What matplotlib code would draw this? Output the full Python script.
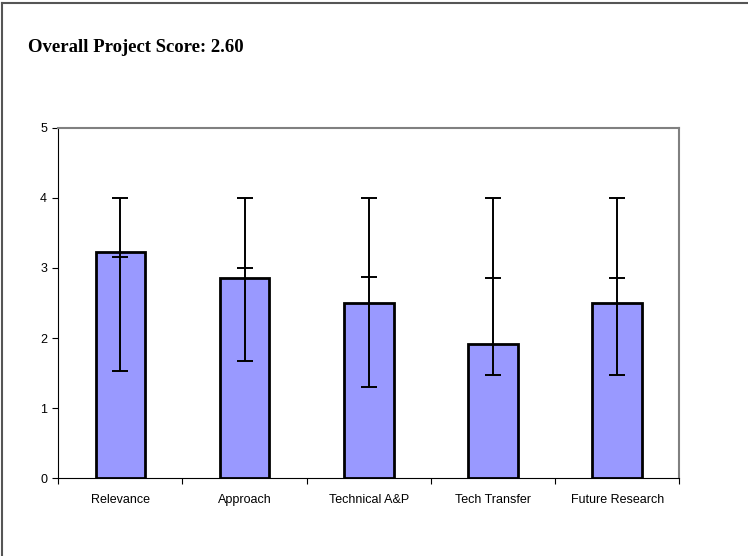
import numpy as np
import matplotlib
matplotlib.use('Agg')
import matplotlib.pyplot as plt
from matplotlib.lines import Line2D

categories = ['Relevance', 'Approach', 'Technical A&P', 'Tech Transfer', 'Future Research']
scores = [3.23, 2.85, 2.50, 1.92, 2.50]
mid_vals = [3.15, 3.00, 2.87, 2.85, 2.85]
min_vals = [1.53, 1.67, 1.30, 1.47, 1.47]
max_vals = [4.0, 4.0, 4.0, 4.0, 4.0]
overall = 2.60

fig = plt.figure(figsize=(7.48, 5.56), dpi=100)
ax = fig.add_axes([0.0779, 0.1397, 0.8302, 0.6306])

x = np.arange(len(categories))
ax.bar(x, scores, width=0.40, color='#9999FF', edgecolor='black', linewidth=2, zorder=2)

mid = np.array(mid_vals)
yerr = [mid - np.array(min_vals), np.array(max_vals) - mid]
ax.errorbar(x, mid, yerr=yerr, fmt='_', color='black', ecolor='black',
            elinewidth=1.4, capsize=5.8, capthick=1.4, markersize=11.5,
            markeredgewidth=1.4, zorder=3)

ax.set_xlim(-0.5, len(categories) - 0.5)
ax.set_ylim(0, 5)
ax.set_yticks([0, 1, 2, 3, 4, 5])
ax.set_xticks(np.arange(len(categories) + 1) - 0.5)
ax.set_xticklabels([])
ax.set_xticks(x, minor=True)
ax.set_xticklabels(categories, minor=True, fontsize=9, family='Liberation Sans')
ax.tick_params(axis='x', which='minor', length=0, pad=11)
ax.tick_params(axis='both', which='major', direction='out', length=4, width=0.8, color='black')
ax.tick_params(axis='y', labelsize=9, pad=4)
for lab in ax.get_yticklabels():
    lab.set_family('Liberation Sans')

ax.spines['top'].set_color('#808080')
ax.spines['right'].set_color('#808080')
ax.spines['top'].set_linewidth(1.5)
ax.spines['right'].set_linewidth(1.5)
ax.spines['left'].set_linewidth(0.8)
ax.spines['bottom'].set_linewidth(0.8)

fig.text(28 / 748, 1 - 47 / 556, f'Overall Project Score: {overall:.2f}',
         fontsize=13.5, fontweight='bold', family='Liberation Serif', va='center', ha='left')

# outer frame (top and left edges)
fig.add_artist(Line2D([2 / 748, 2 / 748], [0, 1 - 3 / 556], transform=fig.transFigure,
                      color='#555555', linewidth=1.5))
fig.add_artist(Line2D([2 / 748, 1], [1 - 3 / 556, 1 - 3 / 556], transform=fig.transFigure,
                      color='#555555', linewidth=1.5))

fig.savefig('out.png', dpi=100)
